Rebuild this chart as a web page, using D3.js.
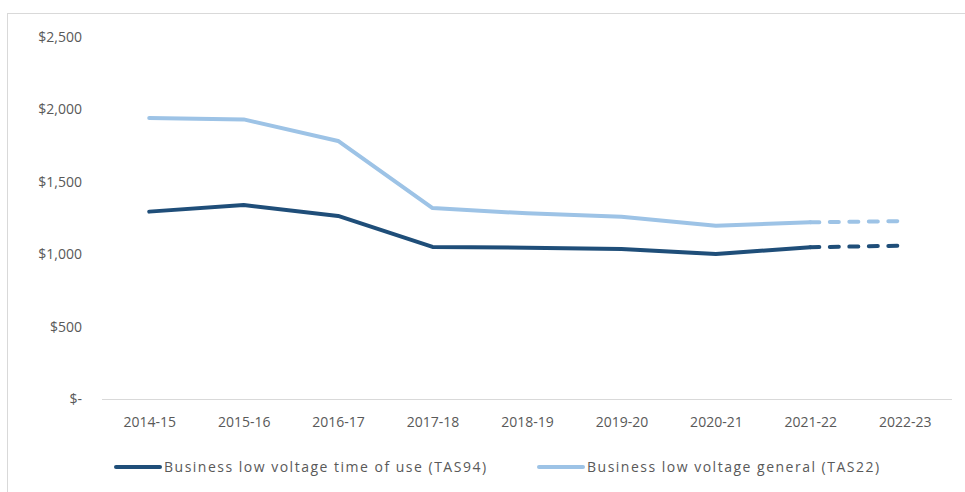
<!DOCTYPE html>
<html>
<head>
<meta charset="utf-8">
<script src="https://cdn.jsdelivr.net/npm/d3@7"></script>
<style>
  body { margin: 0; background: #fff; }
  svg { display: block; }
  .tick text { font-family: 'Open Sans', sans-serif; font-size: 14px; fill: #595959; }
  .legend text { font-family: 'Open Sans', sans-serif; font-size: 14px; letter-spacing: 1.5px; fill: #595959; }
</style>
</head>
<body>
<div id="chart"></div>
<script>
const years = ['2014-15', '2015-16', '2016-17', '2017-18', '2018-19', '2019-20', '2020-21', '2021-22', '2022-23'];
const tas94 = [1294, 1340, 1264, 1050, 1045, 1036, 1001, 1048, 1059];
const tas22 = [1941, 1931, 1782, 1319, 1282, 1259, 1197, 1220, 1229];
const yTicks = [0, 500, 1000, 1500, 2000, 2500];
const seriesNames = ['Business low voltage time of use (TAS94)', 'Business low voltage general (TAS22)'];
const seriesColors = ['#1f4e79', '#9dc3e6'];
// last year is a forecast, drawn dashed
const actualCount = 8;

const W = 965, H = 492;
const svg = d3.select('#chart').append('svg').attr('width', W).attr('height', H);

// chart border
svg.append('rect').attr('x', 7.5).attr('y', 13.5).attr('width', W).attr('height', H)
  .attr('fill', 'none').attr('stroke', '#d9d9d9');

const xScale = d3.scalePoint().domain(years).range([102, 952]).padding(0.5);
const yScale = d3.scaleLinear().domain([0, 2500]).range([399, 37]);

// x axis line
svg.append('line').attr('x1', 102).attr('x2', 952)
  .attr('y1', yScale(0) + 0.5).attr('y2', yScale(0) + 0.5)
  .attr('stroke', '#d9d9d9').attr('stroke-width', 1);

const yAxis = d3.axisLeft(yScale).tickValues(yTicks).tickSize(0).tickPadding(0)
  .tickFormat(function (d) {
    return d === 0 ? '$-' : '$' + d3.format(',')(d);
  });
svg.append('g').attr('class', 'yaxis').attr('transform', 'translate(82,0)').call(yAxis)
  .call(g => g.select('.domain').remove());

const xAxis = d3.axisBottom(xScale).tickSize(0).tickPadding(0);
svg.append('g').attr('class', 'xaxis').attr('transform', 'translate(0,417)').call(xAxis)
  .call(g => g.select('.domain').remove());

const line = d3.line()
  .x(d => xScale(d.year))
  .y(d => yScale(d.value));

[tas94, tas22].forEach(function (vals, i) {
  const pts = vals.map((v, j) => ({ year: years[j], value: v }));
  svg.append('path').datum(pts.slice(0, actualCount))
    .attr('d', line).attr('fill', 'none')
    .attr('stroke', seriesColors[i]).attr('stroke-width', 4)
    .attr('stroke-linejoin', 'round').attr('stroke-linecap', 'round');
  svg.append('path').datum(pts.slice(actualCount - 1))
    .attr('d', line).attr('fill', 'none')
    .attr('stroke', seriesColors[i]).attr('stroke-width', 4)
    .attr('stroke-linecap', 'round').attr('stroke-dasharray', '9,10.5');
});

// legend
const legend = svg.append('g').attr('class', 'legend');
const legendX = [116, 539];
seriesNames.forEach(function (name, i) {
  const g = legend.append('g').attr('transform', 'translate(' + legendX[i] + ',467)');
  g.append('line').attr('x1', 0).attr('x2', 44).attr('y1', 0).attr('y2', 0)
    .attr('stroke', seriesColors[i]).attr('stroke-width', 4).attr('stroke-linecap', 'round');
  g.append('text').attr('x', 48).attr('dy', '0.35em').text(name);
});
</script>
</body>
</html>
